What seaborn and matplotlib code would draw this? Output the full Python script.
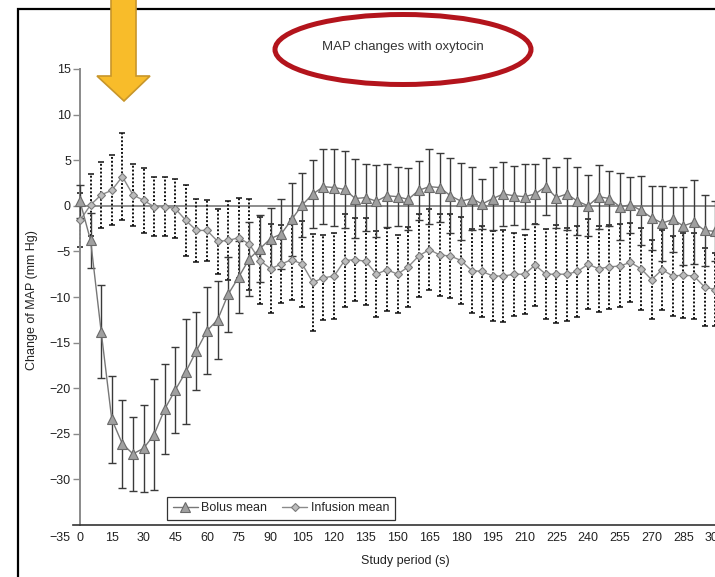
import matplotlib
matplotlib.use("Agg")
import matplotlib.pyplot as plt
import seaborn as sns
from matplotlib.patches import Polygon, Ellipse, Rectangle

# ---------------- data ----------------
time_s = [0, 5, 10, 15, 20, 25, 30, 35, 40, 45, 50, 55, 60, 65, 70, 75, 80, 85, 90, 95,
          100, 105, 110, 115, 120, 125, 130, 135, 140, 145, 150, 155, 160, 165, 170, 175,
          180, 185, 190, 195, 200, 205, 210, 215, 220, 225, 230, 235, 240, 245, 250, 255,
          260, 265, 270, 275, 280, 285, 290, 295, 300]

bolus_mean = [0.5, -3.8, -13.8, -23.4, -26.1, -27.2, -26.6, -25.1, -22.3, -20.2, -18.2, -15.9,
              -13.7, -12.5, -9.7, -7.8, -5.8, -4.7, -3.6, -3.1, -1.5, 0.1, 1.3, 2.1, 2.0, 1.8,
              0.8, 0.9, 0.5, 1.1, 1.0, 0.7, 1.7, 2.1, 2.0, 1.1, 0.5, 0.8, 0.2, 0.8, 1.3, 1.1,
              1.0, 1.3, 2.1, 0.9, 1.3, 0.5, 0.0, 1.0, 0.8, -0.1, 0.1, -0.5, -1.3, -1.9, -1.5,
              -2.2, -1.8, -2.7, -2.8]

bolus_sd = [1.8, 3.0, 5.1, 4.75, 4.85, 4.05, 4.75, 6.1, 4.9, 4.75, 5.75, 4.25, 4.75, 4.25,
            4.1, 3.9, 4.05, 3.65, 3.35, 3.85, 3.95, 3.55, 3.75, 4.1, 4.2, 4.2, 4.35, 3.7,
            3.95, 3.45, 3.25, 3.4, 3.25, 4.15, 3.8, 4.1, 4.2, 3.45, 2.75, 3.45, 3.5, 3.25,
            3.55, 3.25, 3.1, 3.35, 3.95, 3.75, 3.35, 3.5, 3.05, 3.7, 3.1, 3.75, 3.5, 4.1,
            3.55, 4.25, 4.6, 3.9, 3.3]

infusion_mean = [-1.6, 0.1, 1.2, 1.7, 3.2, 1.2, 0.6, -0.1, -0.1, -0.3, -1.6, -2.7, -2.7, -3.9,
                 -3.8, -3.5, -4.2, -6.0, -6.9, -6.4, -5.9, -6.4, -8.4, -7.9, -7.7, -6.0, -5.9,
                 -6.1, -7.5, -7.0, -7.5, -6.7, -5.5, -4.8, -5.4, -5.5, -6.0, -7.1, -7.2, -7.7,
                 -7.7, -7.5, -7.5, -6.5, -7.5, -7.5, -7.5, -7.2, -6.4, -6.9, -6.7, -6.6, -6.2,
                 -6.9, -8.1, -7.0, -7.7, -7.6, -7.7, -8.9, -9.2]

infusion_sd = [2.95, 3.4, 3.6, 3.85, 4.75, 3.4, 3.55, 3.25, 3.25, 3.25, 3.9, 3.45, 3.35, 3.55,
               4.3, 4.4, 5.0, 4.75, 4.85, 4.3, 4.4, 4.7, 5.3, 4.65, 4.7, 5.15, 4.55, 4.8, 4.7,
               4.55, 4.25, 4.35, 4.55, 4.45, 4.45, 4.65, 4.75, 4.6, 5.0, 4.95, 5.0, 4.55, 4.35,
               4.45, 4.95, 5.35, 5.1, 5.0, 4.95, 4.7, 4.6, 4.55, 4.35, 4.5, 4.35, 4.4, 4.4,
               4.65, 4.7, 4.25, 4.0]

x_ticks = [0, 15, 30, 45, 60, 75, 90, 105, 120, 135, 150, 165, 180, 195, 210, 225, 240,
           255, 270, 285, 300]
y_ticks = [-30, -25, -20, -15, -10, -5, 0, 5, 10, 15]

title_text = "MAP changes with oxytocin"
x_label = "Study period (s)"
y_label = "Change of MAP (mm Hg)"

# ---------------- style ----------------
sns.set_style("white")
plt.rcParams['font.family'] = ['Liberation Sans', 'DejaVu Sans']

W, H = 715, 577
fig = plt.figure(figsize=(W / 100, H / 100), dpi=100)
fig.patch.set_facecolor("white")


def fx(px):
    return px / W


def fy(py):
    return 1 - py / H


x_lo, x_hi = -3.3, 310
px_per_s = 2.117
left_px = 80 + x_lo * px_per_s
right_px = 80 + x_hi * px_per_s
top_px, bot_px = 69, 525
ax = fig.add_axes([fx(left_px), fy(bot_px), (right_px - left_px) / W, (bot_px - top_px) / H])
ax.set_facecolor("white")
ax.set_xlim(x_lo, x_hi)
ax.set_ylim(-35, 15)

# error bars
eb_i = ax.errorbar(time_s, infusion_mean, yerr=infusion_sd, fmt='none', ecolor='#111111',
                   elinewidth=1.4, capsize=2, capthick=1.1, zorder=2)
eb_i[2][0].set_linestyle((0, (1, 1)))
eb_b = ax.errorbar(time_s, bolus_mean, yerr=bolus_sd, fmt='none', ecolor='#3a3a3a',
                   elinewidth=1.0, capsize=3, capthick=1.0, zorder=3)

# zero reference line
ax.axhline(0, xmin=(0 - x_lo) / (x_hi - x_lo), color='#8c8c8c', lw=1.4, zorder=1)

# mean lines
sns.lineplot(x=time_s, y=infusion_mean, ax=ax, errorbar=None, color='#8a8a8a', lw=1.0,
             marker='D', markersize=4.3, markerfacecolor='#bdbdbd', markeredgecolor='#7a7a7a',
             markeredgewidth=0.8, label='Infusion mean', zorder=4)
sns.lineplot(x=time_s, y=bolus_mean, ax=ax, errorbar=None, color='#777777', lw=1.0,
             marker='^', markersize=7.3, markerfacecolor='#a0a0a0', markeredgecolor='#6a6a6a',
             markeredgewidth=0.8, label='Bolus mean', zorder=5)

# spines / ticks
for s in ['top', 'right']:
    ax.spines[s].set_visible(False)
ax.spines['left'].set_position(('data', 0))
ax.spines['left'].set_color('#8a8a8a')
ax.spines['left'].set_linewidth(1.4)
ax.spines['bottom'].set_color('#333333')
ax.spines['bottom'].set_linewidth(1.2)

ax.set_yticks(y_ticks)
ax.set_yticklabels([str(v).replace('-', '\u2212') for v in y_ticks])
ax.set_xticks(x_ticks)
ax.set_xticklabels([str(v) for v in x_ticks])
ax.tick_params(axis='y', direction='out', length=5, width=1.0, color='#8a8a8a',
               labelsize=9, labelcolor='#222222', pad=1.5, left=True)
ax.tick_params(axis='x', length=0, labelsize=9, labelcolor='#222222', pad=5, bottom=True)
ax.set_xlabel("")
ax.set_ylabel("")

fig.text(fx(70), fy(538), '\u221235', ha='right', va='center', fontsize=9, color='#222222')
fig.text(fx(405), fy(561), x_label, ha='center', va='center', fontsize=9, color='#222222')
fig.text(fx(32), fy(300), y_label, ha='center', va='center', rotation=90, fontsize=9,
         color='#222222')

# legend
handles, labels = ax.get_legend_handles_labels()
order = [labels.index('Bolus mean'), labels.index('Infusion mean')]
leg = ax.legend([handles[i] for i in order], [labels[i] for i in order],
                loc='lower left', bbox_to_anchor=(fx(167), fy(520)),
                bbox_transform=fig.transFigure, ncol=2, frameon=True, fancybox=False,
                edgecolor='black', fontsize=9, borderaxespad=0, handlelength=2.0,
                handletextpad=0.3, columnspacing=1.2, borderpad=0.45)
leg.get_frame().set_linewidth(0.9)
leg.set_zorder(10)

# outer frame
fig.add_artist(Rectangle((fx(18), fy(620)), (760 - 18) / W, (620 - 9) / H, fill=False,
                         edgecolor='black', lw=1.6, transform=fig.transFigure, zorder=20))

# yellow arrow
arrow_px = [(111, -5), (136, -5), (136, 76), (150, 76), (124, 101), (97, 76), (111, 76)]
fig.add_artist(Polygon([(fx(a), fy(b)) for a, b in arrow_px], closed=True,
                       facecolor='#F8BC2A', edgecolor='#C8962A', lw=1.2,
                       transform=fig.transFigure, zorder=30))

# red ellipse with title
fig.add_artist(Ellipse((fx(403), fy(49.5)), 256 / W, 70 / H, fill=False,
                       edgecolor='#B3141C', lw=3.6, transform=fig.transFigure, zorder=25))
fig.text(fx(403), fy(47), title_text, ha='center', va='center', fontsize=9.5,
         color='#333333', zorder=26)

fig.savefig("out.png", dpi=100)
